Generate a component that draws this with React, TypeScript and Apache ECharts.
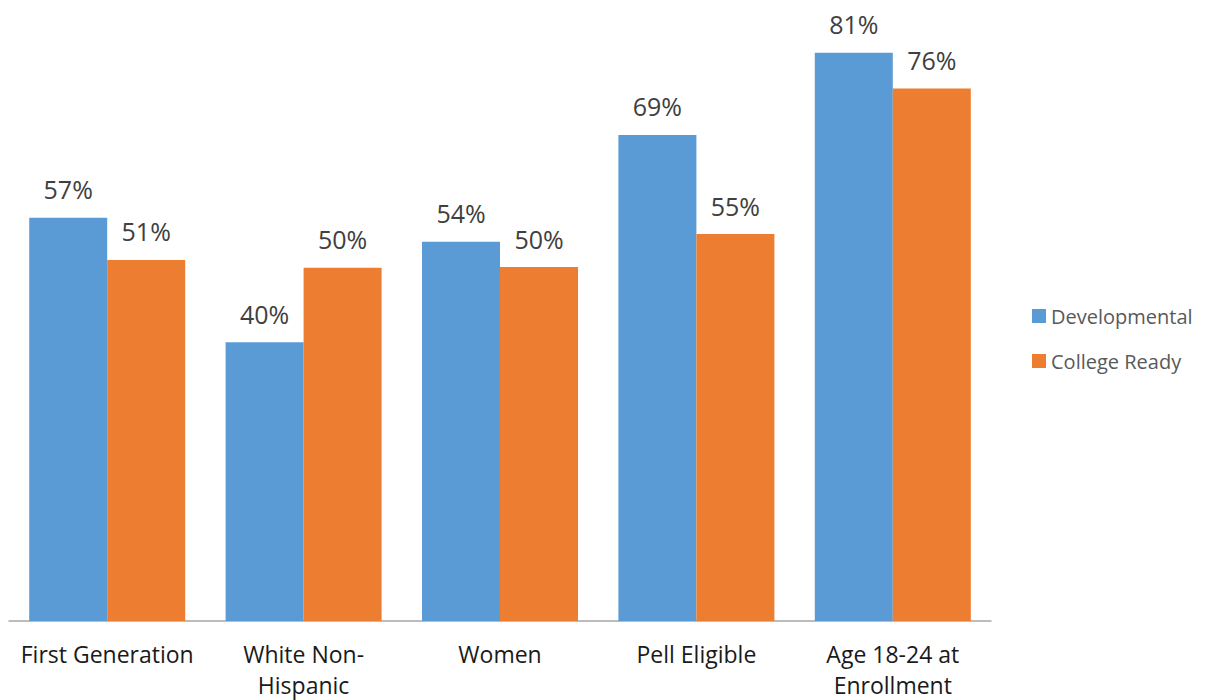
import React, { useEffect, useRef } from "react";
import * as echarts from "echarts";

const categories = [
  "First Generation",
  "White Non-\nHispanic",
  "Women",
  "Pell Eligible",
  "Age 18-24 at\nEnrollment",
];
const developmental = [57.4, 39.7, 54.0, 69.2, 80.9];
const collegeReady = [51.4, 50.3, 50.4, 55.1, 75.8];
const seriesNames = ["Developmental", "College Ready"];
const colors = ["#5B9BD5", "#ED7D31"];

const FONT = "'Open Sans', 'Noto Sans', sans-serif";

export default function App() {
  const ref = useRef<HTMLDivElement>(null);
  useEffect(() => {
    if (!ref.current) return;
    const chart = echarts.init(ref.current, null, { renderer: "svg", width: 1211, height: 700 });
    const label = {
      show: true,
      position: "top",
      distance: 16,
      fontFamily: FONT,
      fontSize: 25,
      color: "#404040",
      formatter: (p: any) => Math.round(p.value) + "%",
    };
    chart.setOption({
      animation: false,
      backgroundColor: "#ffffff",
      grid: {
        left: 9,
        right: 220,
        top: 24,
        bottom: 79,
        containLabel: false,
        outerBoundsMode: "none",
      },
      legend: {
        orient: "vertical",
        left: 1032,
        top: 306,
        padding: 0,
        itemWidth: 14,
        itemHeight: 14,
        itemGap: 25,
        icon: "rect",
        textStyle: { fontFamily: FONT, fontSize: 20, color: "#595959" },
        data: seriesNames,
      },
      xAxis: {
        type: "category",
        data: categories,
        axisLine: { lineStyle: { color: "#A6A6A6", width: 1.5 } },
        axisTick: { show: false },
        axisLabel: {
          interval: 0,
          margin: 17,
          fontFamily: FONT,
          fontSize: 23,
          lineHeight: 31,
          color: "#1a1a1a",
        },
      },
      yAxis: {
        type: "value",
        min: 0,
        max: 85,
        show: false,
        splitLine: { show: false },
      },
      series: [
        {
          name: seriesNames[0],
          type: "bar",
          data: developmental,
          barWidth: 78,
          barGap: "0%",
          itemStyle: { color: colors[0] },
          label,
        },
        {
          name: seriesNames[1],
          type: "bar",
          data: collegeReady,
          barWidth: 78,
          barGap: "0%",
          itemStyle: { color: colors[1] },
          label,
        },
      ],
    });
    return () => chart.dispose();
  }, []);
  return (
    <div
      ref={ref}
      style={{ position: "fixed", left: 0, top: 0, width: 1211, height: 700, background: "#fff" }}
    />
  );
}
